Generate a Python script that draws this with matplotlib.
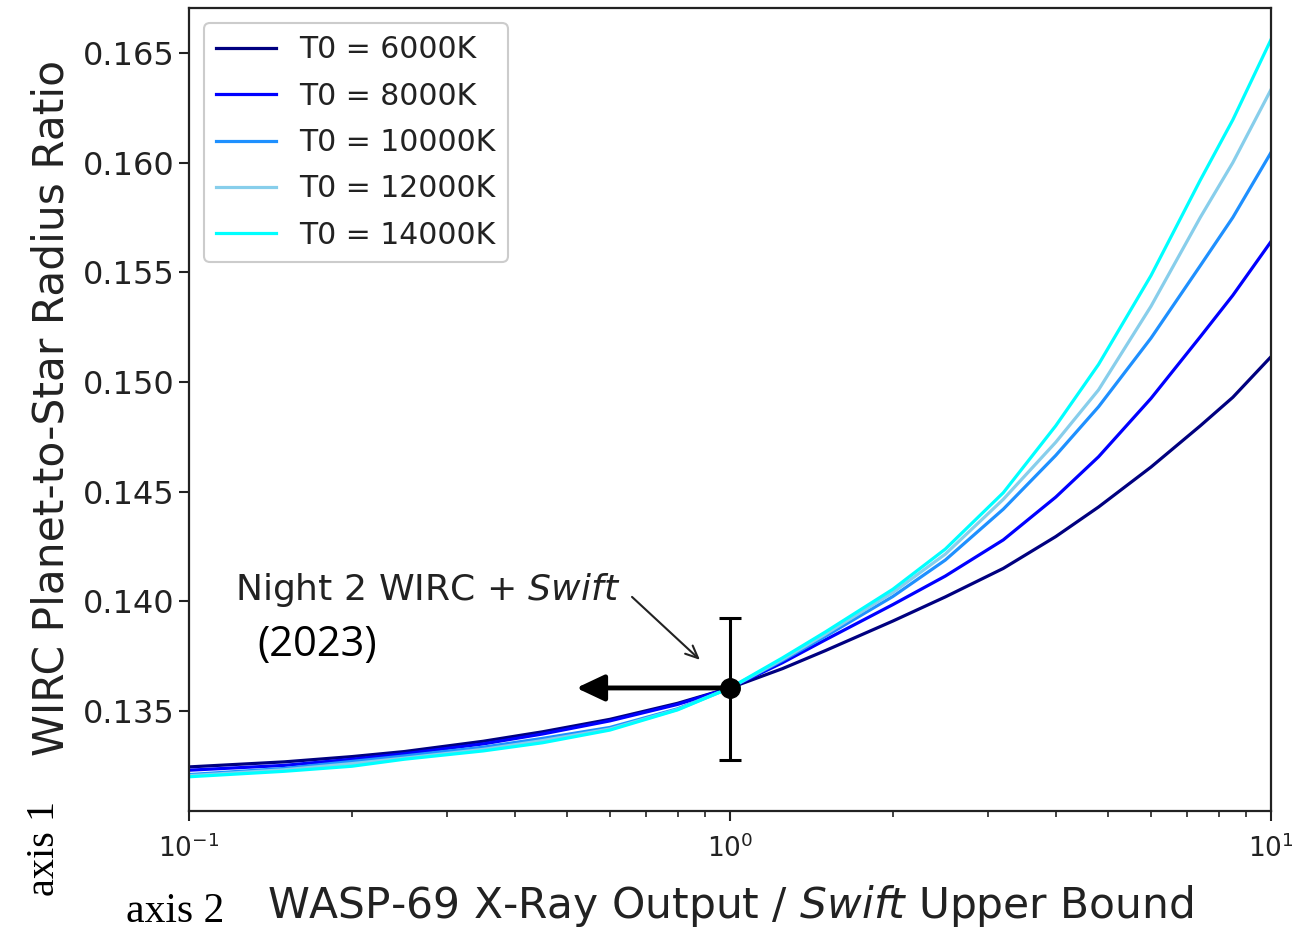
import matplotlib
matplotlib.use("Agg")
import matplotlib.pyplot as plt
from matplotlib.ticker import FixedLocator, FormatStrFormatter

# ---- data ----
xray_ratio = [0.1, 0.15, 0.2, 0.25, 0.35, 0.45, 0.6, 0.8, 1.0, 1.25, 1.5, 2.0, 2.5,
              3.2, 4.0, 4.8, 6.0, 7.4, 8.5, 10.0]
r_6000 = [0.13245, 0.13268, 0.13292, 0.13315, 0.13362, 0.13405, 0.13462, 0.13535, 0.13605,
          0.13693, 0.13775, 0.13910, 0.14020, 0.14150, 0.14295, 0.14430, 0.14612, 0.14800,
          0.14930, 0.15115]
r_8000 = [0.13230, 0.13252, 0.13280, 0.13305, 0.13350, 0.13395, 0.13455, 0.13530, 0.13605,
          0.13720, 0.13824, 0.13985, 0.14115, 0.14280, 0.14475, 0.14659, 0.14925, 0.15206,
          0.15395, 0.15640]
r_10000 = [0.13210, 0.13238, 0.13270, 0.13295, 0.13335, 0.13375, 0.13425, 0.13510, 0.13605,
           0.13730, 0.13840, 0.14022, 0.14188, 0.14420, 0.14665, 0.14887, 0.15200, 0.15530,
           0.15750, 0.16046]
r_12000 = [0.13205, 0.13232, 0.13260, 0.13285, 0.13325, 0.13365, 0.13418, 0.13507, 0.13605,
           0.13735, 0.13850, 0.14040, 0.14215, 0.14465, 0.14725, 0.14964, 0.15345, 0.15750,
           0.16000, 0.16333]
r_14000 = [0.13200, 0.13225, 0.13248, 0.13280, 0.13318, 0.13355, 0.13413, 0.13505, 0.13605,
           0.13742, 0.13860, 0.14055, 0.14238, 0.14495, 0.14800, 0.15080, 0.15485, 0.15920,
           0.16195, 0.16561]
series = [r_6000, r_8000, r_10000, r_12000, r_14000]
labels = ["T0 = 6000K", "T0 = 8000K", "T0 = 10000K", "T0 = 12000K", "T0 = 14000K"]
colors = ["navy", "blue", "dodgerblue", "skyblue", "cyan"]

obs_x = 1.0
obs_y = 0.13605
obs_err_lo = 0.0033
obs_err_hi = 0.0032
arrow_end_x = 0.52

yticks = [0.135, 0.140, 0.145, 0.150, 0.155, 0.160, 0.165]

fig = plt.figure(figsize=(13.07, 9.32), dpi=100)
ax = fig.add_axes([189/1307, 1 - 811/932, (1271-189)/1307, (811-8)/932])

for ys, lab, c in zip(series, labels, colors):
    ax.plot(xray_ratio, ys, color=c, lw=2.3, label=lab)

ax.set_xscale("log")
ax.set_xlim(0.1, 10)
ax.set_ylim(0.13044, 0.16705)
ax.yaxis.set_major_locator(FixedLocator(yticks))
ax.yaxis.set_major_formatter(FormatStrFormatter("%.3f"))

ax.tick_params(axis="both", which="major", length=7, width=1.5, colors="#222222")
ax.tick_params(axis="y", which="major", labelsize=23)
ax.tick_params(axis="x", which="major", labelsize=19, pad=10)
ax.tick_params(axis="both", which="minor", length=4, width=1.2, colors="#222222")
for s in ax.spines.values():
    s.set_linewidth(1.6)
    s.set_color("#222222")

# observation
ax.errorbar([obs_x], [obs_y], yerr=[[obs_err_lo], [obs_err_hi]], fmt="o", color="black",
            ms=14, elinewidth=2.2, capsize=8, capthick=2.2, zorder=5)
ax.annotate("", xy=(arrow_end_x, obs_y), xytext=(obs_x, obs_y),
            arrowprops=dict(arrowstyle="-|>,head_width=0.8,head_length=1.7", lw=3.5,
                            color="black", shrinkA=0, shrinkB=0), zorder=4)

ax.text(0.1216, 0.14052, r"Night 2 WIRC + $\it{Swift}$", fontsize=26, color="#222222",
        ha="left", va="center")
ax.text(0.134, 0.13801, "(2023)", fontsize=30, family="Open Sans", color="black",
        ha="left", va="center")
ax.annotate("", xy=(0.88, 0.13733), xytext=(0.659, 0.1402),
            arrowprops=dict(arrowstyle="->,head_width=0.4,head_length=0.9", lw=1.5,
                            color="#222222", shrinkA=0, shrinkB=0))

leg = ax.legend(loc="upper left", fontsize=21.5, handlelength=2.0, labelspacing=0.58,
                borderpad=0.42, handletextpad=0.78, framealpha=1.0, borderaxespad=0.5)
leg.get_frame().set_edgecolor("#cccccc")
leg.get_frame().set_linewidth(1.5)
for t in leg.get_texts():
    t.set_color("#222222")

ax.set_ylabel("WIRC Planet-to-Star Radius Ratio", fontsize=30.5, color="#222222")
ax.yaxis.set_label_coords(-0.108, 0.502)
ax.set_xlabel(r"WASP-69 X-Ray Output / $\it{Swift}$ Upper Bound", fontsize=30.5, color="#222222")
ax.xaxis.set_label_coords(0.5, -0.090)

fig.text(45/1307, 1 - 848/932, "axis 1", family="Liberation Serif", fontsize=29,
         rotation=90, ha="center", va="center")
fig.text(175/1307, 1 - 912/932, "axis 2", family="Liberation Serif", fontsize=30,
         ha="center", va="center")

fig.savefig("out.png", dpi=100)
